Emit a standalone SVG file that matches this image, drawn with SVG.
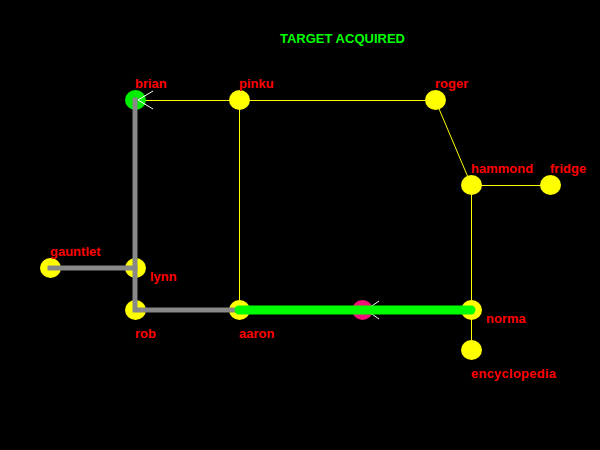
<svg xmlns="http://www.w3.org/2000/svg" width="600" height="450" viewBox="0 0 600 450">
<style>
.bg{fill:#000}
.n{fill:#ffff00}
.lbl{font-family:"Liberation Sans",Arial,sans-serif;font-size:13px;font-weight:bold;fill:#ff0000}
.title{font-family:"Liberation Sans",Arial,sans-serif;font-size:13px;font-weight:bold;fill:#00ff00}
.thin{stroke:#ffff00;stroke-width:1;fill:none}
.gray{stroke:#888888;stroke-width:5;fill:none;stroke-linecap:square}
.path{stroke:#00ff00;stroke-width:9;fill:none;stroke-linecap:round}
.ant{stroke:#ffffff;stroke-width:1;fill:none}
</style>
<rect class="bg" x="0" y="0" width="600" height="450"/>
<text class="title" x="280" y="43">TARGET ACQUIRED</text>
<g id="edges">
<line class="thin" x1="135.5" y1="100.5" x2="239.5" y2="100.5"/>
<line class="thin" x1="239.5" y1="100.5" x2="435.5" y2="100.5"/>
<line class="thin" x1="435.5" y1="100.5" x2="471.5" y2="185.5"/>
<line class="thin" x1="471.5" y1="185.5" x2="550.5" y2="185.5"/>
<line class="thin" x1="239.5" y1="100.5" x2="239.5" y2="310.5"/>
<line class="thin" x1="471.5" y1="185.5" x2="471.5" y2="310.5"/>
<line class="thin" x1="471.5" y1="310.5" x2="471.5" y2="350.5"/>
</g>
<g id="brian"><ellipse cx="135.5" cy="100" rx="10.5" ry="10" fill="#00ee00"/><polyline class="ant" points="153,91 138,100 153,109"/><text class="lbl" x="135" y="88">brian</text></g>
<g id="pinku"><ellipse class="n" cx="239.5" cy="100" rx="10.5" ry="10"/><text class="lbl" x="239" y="88">pinku</text></g>
<g id="roger"><ellipse class="n" cx="435.5" cy="100" rx="10.5" ry="10"/><text class="lbl" x="435" y="88">roger</text></g>
<g id="hammond"><ellipse class="n" cx="471.5" cy="185" rx="10.5" ry="10"/><text class="lbl" x="471" y="173">hammond</text></g>
<g id="fridge"><ellipse class="n" cx="550.5" cy="185" rx="10.5" ry="10"/><text class="lbl" x="550" y="173">fridge</text></g>
<g id="gauntlet"><ellipse class="n" cx="50.5" cy="268" rx="10.5" ry="10"/><text class="lbl" x="50" y="256">gauntlet</text></g>
<g id="lynn"><ellipse class="n" cx="135.5" cy="268" rx="10.5" ry="10"/><text class="lbl" x="150" y="281">lynn</text></g>
<g id="rob"><ellipse class="n" cx="135.5" cy="310" rx="10.5" ry="10"/><text class="lbl" x="135" y="338">rob</text></g>
<g id="aaron"><ellipse class="n" cx="239.5" cy="310" rx="10.5" ry="10"/><text class="lbl" x="239" y="338">aaron</text></g>
<g id="norma"><ellipse class="n" cx="471.5" cy="310" rx="10.5" ry="10"/><text class="lbl" x="486" y="323">norma</text></g>
<g id="encyclopedia"><ellipse class="n" cx="471.5" cy="350" rx="10.5" ry="10"/><text class="lbl" x="471" y="378" textLength="85">encyclopedia</text></g>
<g id="target"><ellipse cx="362.5" cy="310" rx="10.5" ry="10" fill="#ee1177"/><polyline class="ant" points="379,301 366,310 379,319"/></g>
<g id="route">
<polyline class="gray" points="135,100 135,310 239,310"/>
<line class="gray" x1="50" y1="268" x2="135" y2="268"/>
<line class="path" x1="239" y1="310" x2="471" y2="310"/>
</g>
</svg>
